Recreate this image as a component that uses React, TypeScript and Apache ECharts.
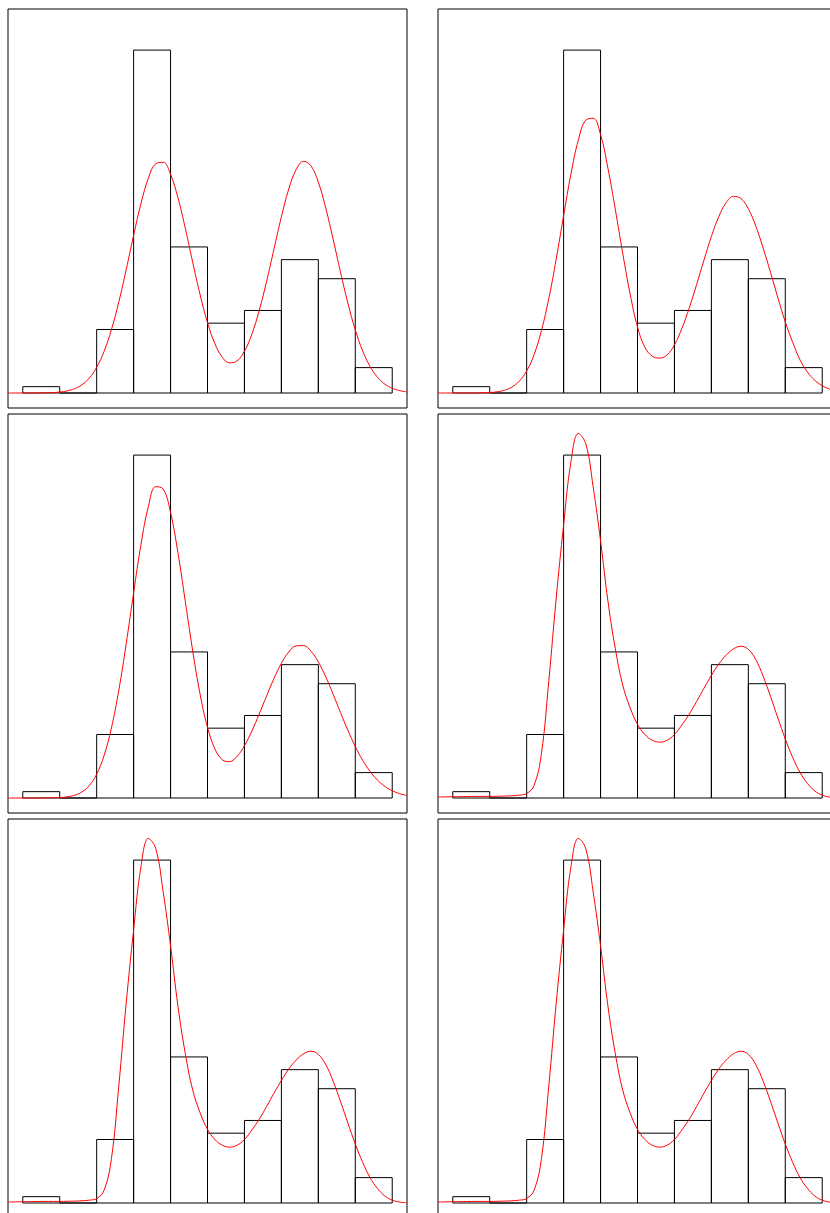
import React, { useEffect, useRef } from "react";
import * as echarts from "echarts";

// Histogram bins (edges) and counts
const binEdges = [0, 1, 2, 3, 4, 5, 6, 7, 8, 9, 10];
const counts = [1, 0, 10, 54, 23, 11, 13, 21, 18, 4];

// x positions at which the fitted density curves were read
const curveX = [
  -0.4, -0.2, 0, 0.2, 0.4, 0.6, 0.8, 1, 1.2, 1.4, 1.6, 1.8, 2, 2.2, 2.4, 2.6, 2.8, 3, 3.2, 3.4, 3.6, 3.8,
  4, 4.2, 4.4, 4.6, 4.8, 5, 5.2, 5.4, 5.6, 5.8, 6, 6.2, 6.4, 6.6, 6.8, 7, 7.2, 7.4, 7.6, 7.8, 8, 8.2,
  8.4, 8.6, 8.8, 9, 9.2, 9.4, 9.6, 9.8, 10, 10.2, 10.4,
];

// Curve values (count scale), one array per fit
const curve1 = [
  0, 0, 0, 0, 0.01, 0.03, 0.06, 0.15, 0.33, 0.67, 1.29, 2.35, 4.05, 6.55, 9.99, 14.36, 19.45, 24.82, 29.85,
  33.82, 36.11, 36.33, 34.43, 30.76, 25.91, 20.58, 15.47, 11.09, 7.77, 5.64, 4.75, 5.06, 6.57, 9.25, 12.99,
  17.6, 22.69, 27.74, 32.12, 35.19, 36.48, 35.78, 33.2, 29.15, 24.22, 19.03, 14.15, 9.96, 6.63, 4.18, 2.49,
  1.4, 0.75, 0.38, 0.18,
];
const curve2 = [
  0, 0, 0, 0, 0.01, 0.01, 0.03, 0.08, 0.19, 0.44, 0.94, 1.87, 3.47, 6.04, 9.82, 14.9, 21.1, 27.94, 34.53,
  39.86, 42.97, 43.26, 40.68, 35.4, 28.9, 22.0, 15.6, 10.4, 7.2, 5.8, 5.5, 6.0, 7.59, 10.14, 13.37,
  17.08, 20.95, 24.65, 27.77, 29.97, 30.96, 30.62, 29.01, 26.31, 22.85, 19.0, 15.0, 11.2, 8.0, 5.2, 3.3, 2.0,
  1.15, 0.6, 0.3,
];
const curve3 = [
  0, 0, 0, 0, 0, 0.01, 0.02, 0.07, 0.18, 0.43, 0.95, 1.96, 3.75, 6.67, 11.04, 16.99, 24.31, 32.33, 39.95,
  45.89, 49.02, 48.66, 44.96, 38.62, 30.92, 23.14, 16.34, 11.14, 7.74, 6.03, 5.73, 6.56, 8.24, 10.54, 13.24,
  16.08, 18.83, 21.22, 22.99, 23.96, 24.0, 23.13, 21.42, 19.08, 16.35, 13.46, 10.66, 8.12, 5.94, 4.19, 2.83,
  1.84, 1.15, 0.69, 0.4,
];
const curve4 = [
  0.15, 0.18, 0.2, 0.22, 0.24, 0.25, 0.25, 0.25, 0.27, 0.3, 0.35, 0.45, 0.7, 2.0, 7.0, 18.5, 31.5, 43.0, 53.0,
  57.4, 55.8, 49.0, 40.5, 31.0, 23.5, 17.8, 14.2, 11.6, 10.0, 9.1, 8.8, 9.1, 10.0, 11.5, 13.2, 15.2, 17.3,
  19.3, 21.1, 22.5, 23.5, 23.9, 23.4, 21.8, 19.2, 16.0, 12.6, 9.3, 6.4, 4.0, 2.3, 1.1, 0.45, 0.15, 0.05,
];
const curve5 = curve4;
const curve6 = curve4;
const panelCurves = [curve1, curve2, curve3, curve4, curve5, curve6];

// axis ranges
const xRange = [-0.4, 10.4];
const yRange = [-2.36, 60.47];

export default function App() {
  const ref = useRef<HTMLDivElement>(null);
  useEffect(() => {
    if (!ref.current) return;
    const chart = echarts.init(ref.current, null, { renderer: "svg" });
    const grids: any[] = [];
    const xAxes: any[] = [];
    const yAxes: any[] = [];
    const series: any[] = [];
    for (let i = 0; i < panelCurves.length; i++) {
      const row = Math.floor(i / 2);
      const col = i % 2;
      grids.push({
        left: 8 + col * 430,
        top: 9 + row * 405,
        width: 399,
        height: 399,
        show: true,
        borderColor: "#000",
        borderWidth: 1,
        backgroundColor: "transparent",
      });
      xAxes.push({ type: "value", gridIndex: i, min: xRange[0], max: xRange[1], show: false });
      yAxes.push({ type: "value", gridIndex: i, min: yRange[0], max: yRange[1], show: false });
      series.push({
        type: "custom",
        xAxisIndex: i,
        yAxisIndex: i,
        silent: true,
        z: 1,
        data: counts.map((c, k) => [binEdges[k], binEdges[k + 1], c]),
        encode: { x: [0, 1], y: 2 },
        renderItem: (_params: any, api: any) => {
          const p0 = api.coord([api.value(0), api.value(2)]);
          const p1 = api.coord([api.value(1), 0]);
          return {
            type: "polygon",
            shape: {
              points: [
                [p0[0], p1[1]],
                [p0[0], p0[1]],
                [p1[0], p0[1]],
                [p1[0], p1[1]],
              ],
            },
            style: { fill: "none", stroke: "#000", lineWidth: 1 },
          };
        },
      });
      series.push({
        type: "line",
        xAxisIndex: i,
        yAxisIndex: i,
        silent: true,
        z: 2,
        smooth: 0.4,
        showSymbol: false,
        symbol: "none",
        lineStyle: { color: "#ff0000", width: 1 },
        data: curveX.map((x, k) => [x, panelCurves[i][k]]),
      });
    }
    chart.setOption({
      animation: false,
      backgroundColor: "#fff",
      grid: grids,
      xAxis: xAxes,
      yAxis: yAxes,
      series,
    });
    return () => chart.dispose();
  }, []);
  return (
    <div
      style={{
        position: "absolute",
        left: 0,
        top: 0,
        width: 830,
        height: 1213,
        overflow: "hidden",
        background: "#fff",
      }}
    >
      <div ref={ref} style={{ width: 850, height: 1230 }} />
    </div>
  );
}
